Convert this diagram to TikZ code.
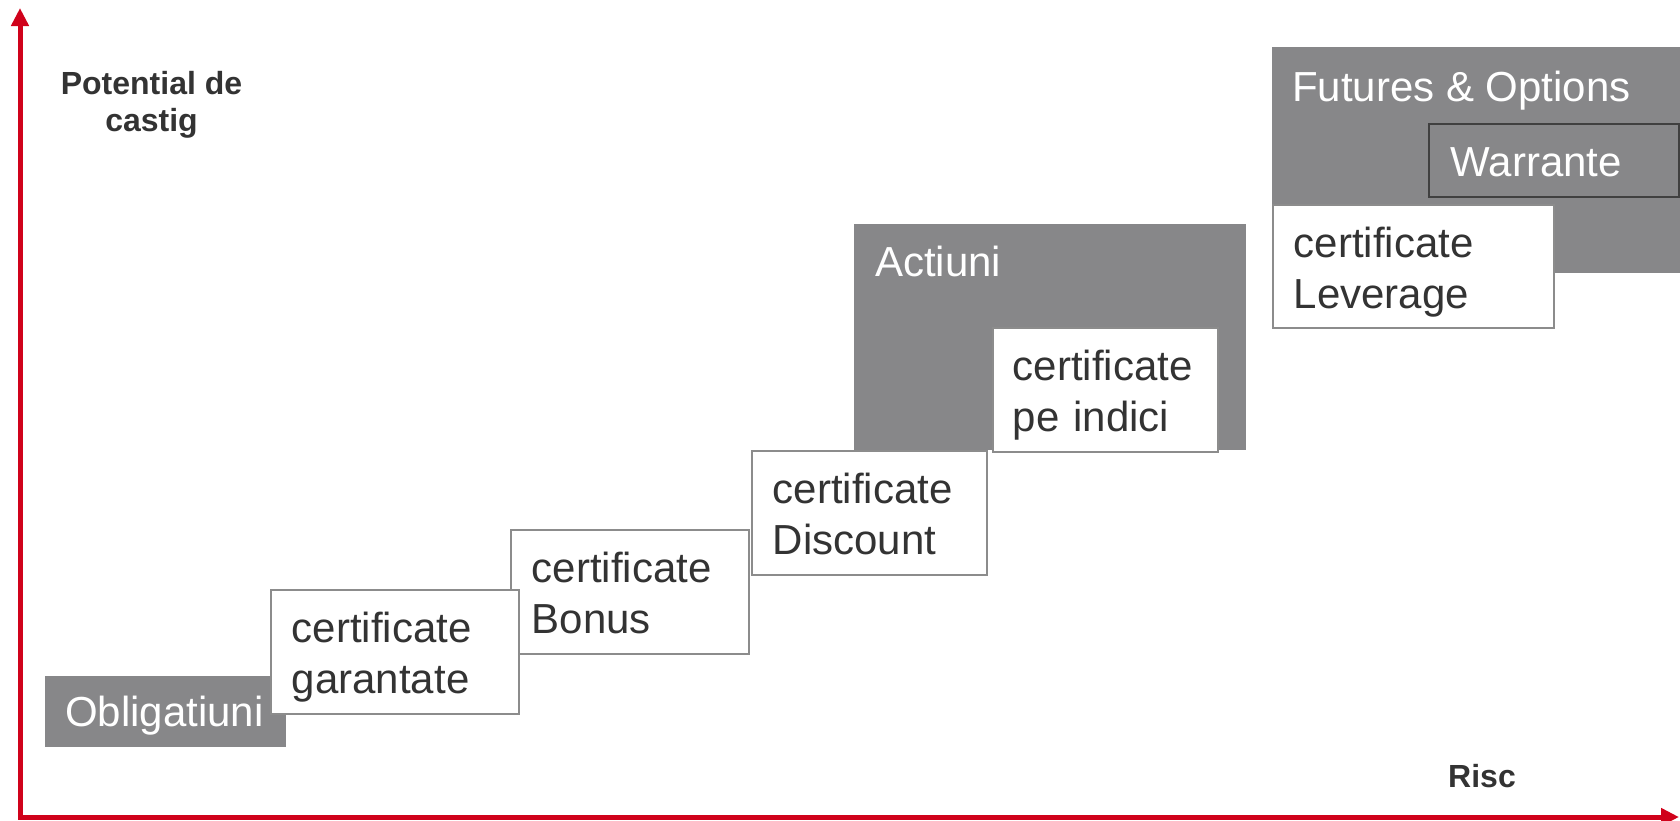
\documentclass[tikz,border=0pt]{standalone}
\usepackage{fontspec}
\setmainfont{Liberation Sans}
\usetikzlibrary{arrows.meta}
\definecolor{axisred}{RGB}{208,2,27}
\definecolor{boxgray}{RGB}{135,135,137}
\definecolor{edgegray}{RGB}{140,140,140}
\definecolor{txtgray}{RGB}{51,51,51}
\definecolor{darkedge}{RGB}{64,64,64}
\newcommand\twolines[3][20.5pt]{\rule{0pt}{52.5pt}#2\\#3\rule[-#1]{0pt}{0pt}}
\begin{document}
\begin{tikzpicture}[x=1pt,y=-1pt,
  big/.style={font=\fontsize{42}{51}\selectfont},
  whitebox/.style={big, draw=edgegray, line width=1.8pt, fill=white, text=txtgray,
    anchor=north west, align=left, inner ysep=0pt, inner xsep=21pt},
  grayrect/.style={fill=boxgray, draw=none, anchor=north west, inner sep=0pt},
  graybox/.style={big, fill=boxgray, draw=none, text=white, anchor=north west,
    inner ysep=0pt, inner xsep=20pt},
  graytext/.style={big, text=white, anchor=base west, inner sep=0pt},
  axislbl/.style={font=\fontsize{32}{37}\selectfont\bfseries, text=txtgray, inner sep=0pt},
  axisline/.style={draw=axisred, line width=5pt, line join=miter,
    {Triangle[width=17pt,length=18pt]}-{Triangle[width=17pt,length=18pt]}}]
\useasboundingbox (0,0) rectangle (1680,820);

% axes
\coordinate (ytip) at (20,8);
\coordinate (origin) at (20,817);
\coordinate (xtip) at (1679,817);
\draw[axisline] (ytip) -- (origin) -- (xtip);
\node[axislbl, align=center] (ylbl) at (151.5,104.5) {Potential de\\castig};
\node[axislbl, anchor=base west] (xlbl) at (1448,787) {Risc};

% gray backgrounds
\node[grayrect, minimum width=392pt, minimum height=226pt] (actiuni) at (854,224) {};
\node[graytext] (actiunitxt) at (875,276) {Actiuni};
\node[grayrect, minimum width=408pt, minimum height=226pt] (fo) at (1272,47) {};
\node[graytext] (fotxt) at (1292,101) {Futures \& Options};
\node[graybox, draw=darkedge, line width=1.5pt, inner xsep=22pt, text width=206pt,
      text height=53pt, text depth=20pt] (warrante) at (1428,123) {Warrante};
\node[graybox, text width=201pt, text height=50.5pt, text depth=20.5pt] (oblig) at (45,676) {Obligatiuni};

% white certificate boxes
\node[whitebox, text width=196pt, minimum height=124pt] (bonus) at (510,529) {\twolines{certificate}{Bonus}};
\node[whitebox, text width=206pt, minimum height=124pt] (garant) at (270,589) {\twolines{certificate}{garantate}};
\node[whitebox, text width=193pt, minimum height=124pt] (discount) at (751,450) {\twolines{certificate}{Discount}};
\node[whitebox, inner xsep=20pt, text width=185pt, minimum height=124pt] (indici) at (992,327) {\twolines{certificate}{pe indici}};
\node[whitebox, text width=239pt, minimum height=123pt] (leverage) at (1272,204) {\twolines[19.5pt]{certificate}{Leverage}};
\end{tikzpicture}
\end{document}
